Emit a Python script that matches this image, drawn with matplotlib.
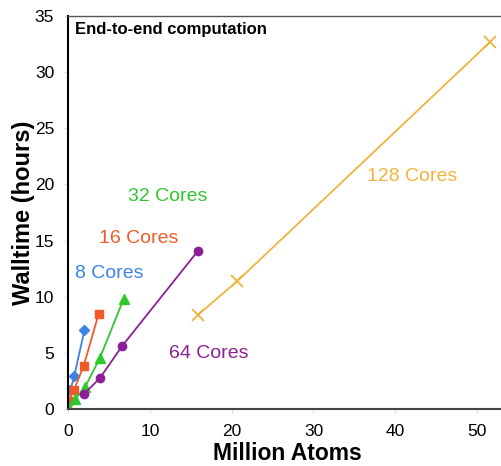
import matplotlib.pyplot as plt

plt.rcParams['font.family'] = ['Liberation Sans', 'DejaVu Sans']

# Million atoms / walltime (hours) per core count
x8 = [0.3, 0.75, 2.0]
y8 = [1.7, 2.9, 7.0]
x16 = [0.05, 0.73, 1.9, 3.75]
y16 = [0.7, 1.7, 3.8, 8.5]
x32 = [0.15, 0.86, 2.08, 3.9, 6.8]
y32 = [0.1, 0.85, 1.95, 4.55, 9.8]
x64 = [1.9, 3.9, 6.6, 15.9]
y64 = [1.3, 2.75, 5.6, 14.1]
x128 = [15.9, 20.7, 51.6]
y128 = [8.4, 11.4, 32.7]

c8 = "#3c82e6"
c16 = "#f05a28"
c32 = "#2ec82e"
c64 = "#8c1f96"
c128 = "#f0b43c"

fig = plt.figure(figsize=(5.02, 4.66), dpi=100)
ax = fig.add_axes([0.1355, 0.1223, 0.872, 0.8433])

ax.plot(x8, y8, color=c8, marker="D", markersize=5, lw=1.3)
ax.plot(x16, y16, color=c16, marker="s", markersize=6, lw=1.3)
ax.plot(x32, y32, color=c32, marker="^", markersize=7, lw=1.3)
ax.plot(x64, y64, color=c64, marker="o", markersize=6, lw=1.3)
ax.plot(x128, y128, color=c128, marker="x", markersize=9, mew=1.3, lw=1.3)

ax.text(5.1, 12.1, "8 Cores", color=c8, fontsize=14, ha="center", va="center")
ax.text(8.6, 15.2, "16 Cores", color=c16, fontsize=14, ha="center", va="center")
ax.text(12.2, 18.9, "32 Cores", color=c32, fontsize=14, ha="center", va="center")
ax.text(17.2, 4.9, "64 Cores", color=c64, fontsize=14, ha="center", va="center")
ax.text(42.0, 20.7, "128 Cores", color=c128, fontsize=14, ha="center", va="center")

ax.text(0.016, 0.965, "End-to-end computation", transform=ax.transAxes,
        fontsize=12, fontweight="bold", ha="left", va="center")

ax.set_xlim(0, 53.5)
ax.set_ylim(0, 35)
ax.set_xticks([0, 10, 20, 30, 40, 50])
ax.set_yticks([0, 5, 10, 15, 20, 25, 30, 35])
ax.tick_params(labelsize=12.5, length=3, color="#dddddd")
ax.tick_params(axis="x", pad=8)
ax.tick_params(axis="y", pad=7)

ax.set_xlabel("Million Atoms", fontsize=16.5, fontweight="bold", labelpad=2)
ax.set_ylabel("Walltime (hours)", fontsize=17, fontweight="bold", labelpad=0)

ax.spines["left"].set_linewidth(1.5)
ax.spines["left"].set_color("black")
ax.spines["bottom"].set_linewidth(1.5)
ax.spines["bottom"].set_color("#444444")
ax.spines["top"].set_linewidth(1.0)
ax.spines["top"].set_color("#555555")
ax.spines["right"].set_visible(False)

fig.savefig("out.png", dpi=100)
